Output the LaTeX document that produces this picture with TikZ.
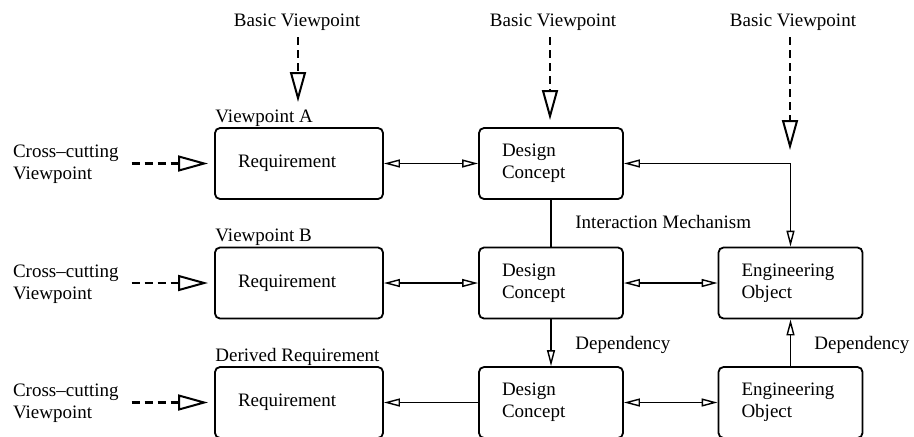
\documentclass[tikz,border=0pt]{standalone}
\usepackage{fontspec}
\setmainfont{Liberation Serif}
\usetikzlibrary{arrows.meta}
\begin{document}
\begin{tikzpicture}[x=0.5pt,y=-0.5pt,
  font=\fontsize{9.5}{11.2}\selectfont,
  sm/.tip={Triangle[open,length=8pt,width=4pt,line width=0.7pt]},
  bg/.tip={Triangle[open,length=15pt,width=8pt,line width=1pt]},
  box/.style={draw,line width=0.9pt,rounded corners=2.5pt,minimum height=35.5pt,
    inner xsep=11.5pt,align=left,anchor=center},
  reqbox/.style={box,text width=61pt},
  dcbox/.style={box,text width=49pt},
  conn/.style={line width=0.8pt},
  viewarrow/.style={line width=1.2pt,dash pattern=on 4pt off 2.5pt,-{bg}},
  tag/.style={anchor=base west,inner sep=0pt},
]
\useasboundingbox (0,0) rectangle (914,436);

% boxes
\node[reqbox] (req1) at (299,163.5) {Requirement};
\node[dcbox]  (dc1)  at (551,163.5) {Design\\Concept};
\node[reqbox] (req2) at (299,283) {Requirement};
\node[dcbox]  (dc2)  at (551,283) {Design\\Concept};
\node[dcbox]  (eo2)  at (790.5,283) {Engineering\\Object};
\node[reqbox] (req3) at (299,402.5) {Requirement};
\node[dcbox]  (dc3)  at (551,402.5) {Design\\Concept};
\node[dcbox]  (eo3)  at (790.5,402.5) {Engineering\\Object};

% labels over the requirement boxes
\node[tag] (va) at (215,122.5) {Viewpoint A};
\node[tag] (vb) at (215,241.5) {Viewpoint B};
\node[tag] (dr) at (215,361.5) {Derived Requirement};

% basic viewpoints
\node[anchor=base] (bv1) at (297,26) {Basic Viewpoint};
\node[anchor=base] (bv2) at (553,26) {Basic Viewpoint};
\node[anchor=base] (bv3) at (793,26) {Basic Viewpoint};
\coordinate (t1) at (298,102);
\coordinate (t2) at (550,120);
\coordinate (t3) at (790,150);
\draw[viewarrow] (bv1.south -| t1) -- (t1);
\draw[viewarrow] (bv2.south -| t2) -- (t2);
\draw[viewarrow] (bv3.south -| t3) -- (t3);

% cross-cutting viewpoints
\node[anchor=west,align=left] (cc1) at (6,164) {Cross--cutting\\Viewpoint};
\node[anchor=west,align=left] (cc2) at (6,284) {Cross--cutting\\Viewpoint};
\node[anchor=west,align=left] (cc3) at (6,403) {Cross--cutting\\Viewpoint};
\coordinate (h1) at (208,163.5);
\coordinate (h2) at (208,283);
\coordinate (h3) at (208,402.5);
\draw[viewarrow] (cc1.east |- h1) ++(6,0) -- (h1);
\draw[viewarrow] (cc2.east |- h2) ++(6,0) -- (h2);
\draw[viewarrow] (cc3.east |- h3) ++(6,0) -- (h3);

% connectors
\draw[conn,{sm}-{sm}] (req1.east) -- (dc1.west);
\draw[conn,{sm}-{sm}] (dc1.east) -| (eo2.north);
\draw[conn] (dc1.south) -- (dc2.north);
\draw[conn,{sm}-{sm}] (req2.east) -- (dc2.west);
\draw[conn,{sm}-{sm}] (dc2.east) -- (eo2.west);
\draw[conn,-{sm}] (dc2.south) -- (dc3.north);
\draw[conn,{sm}-] (req3.east) -- (dc3.west);
\draw[conn,{sm}-{sm}] (dc3.east) -- (eo3.west);
\draw[conn,-{sm}] (eo3.north) -- (eo2.south);

% connector labels
\node[tag] (im) at (575,228) {Interaction Mechanism};
\node[tag] (dp1) at (575,349) {Dependency};
\node[tag] (dp2) at (814,349) {Dependency};
\end{tikzpicture}
\end{document}
